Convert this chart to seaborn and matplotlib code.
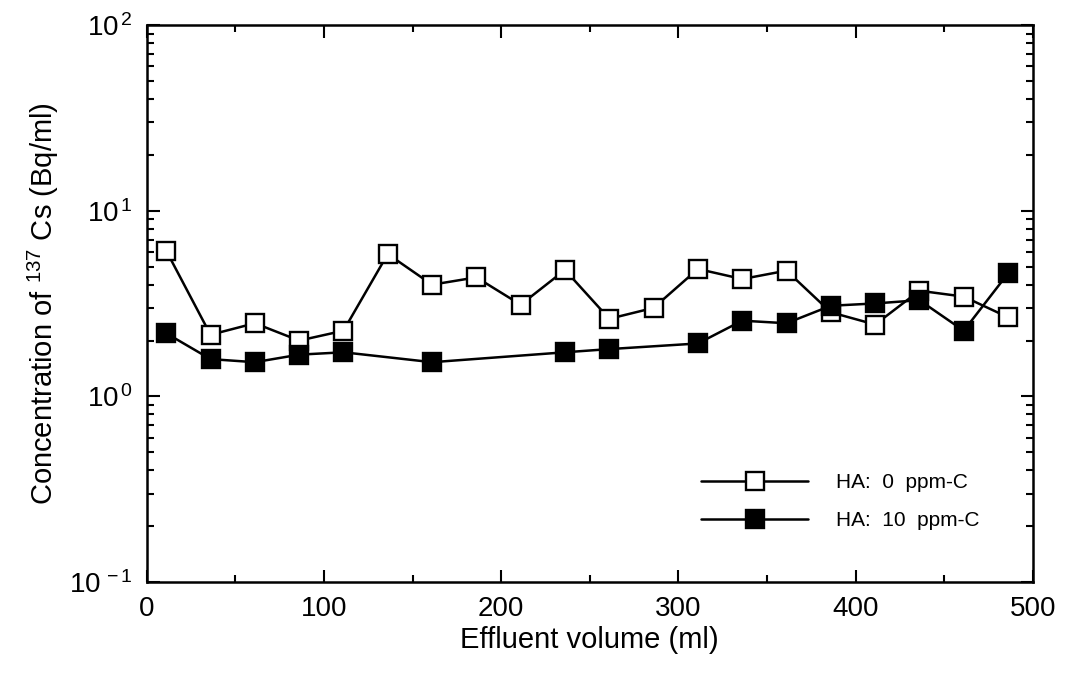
import numpy as np
import pandas as pd
import matplotlib
matplotlib.use("Agg")
import matplotlib.pyplot as plt
import seaborn as sns
from matplotlib.ticker import LogLocator, MultipleLocator, FuncFormatter, NullFormatter

# ---- data ----
vol_ha0 = [11, 36, 61, 86, 111, 136, 161, 186, 211, 236,
           261, 286, 311, 336, 361, 386, 411, 436, 461, 486]
cs_ha0 = [6.1, 2.15, 2.48, 2.0, 2.26, 5.85, 4.0, 4.38, 3.12, 4.8,
          2.62, 3.0, 4.86, 4.29, 4.76, 2.84, 2.44, 3.71, 3.45, 2.67]

vol_ha10 = [11, 36, 61, 86, 111, 161, 236, 261, 311, 336,
            361, 386, 411, 436, 461, 486]
cs_ha10 = [2.19, 1.59, 1.53, 1.68, 1.73, 1.53, 1.73, 1.80, 1.93, 2.56,
           2.48, 3.08, 3.17, 3.3, 2.26, 4.6]

label_ha0 = "HA:  0  ppm-C"
label_ha10 = "HA:  10  ppm-C"
x_label = "Effluent volume (ml)"
y_label = "Concentration of $^{137}$ Cs (Bq/ml)"

sns.set_style("ticks")
plt.rcParams["font.family"] = ["Liberation Sans", "DejaVu Sans"]
plt.rcParams["mathtext.fontset"] = "custom"
plt.rcParams["mathtext.rm"] = "Liberation Sans"
plt.rcParams["mathtext.it"] = "Liberation Sans"
plt.rcParams["mathtext.default"] = "regular"
plt.rcParams["text.color"] = "black"
plt.rcParams["axes.labelcolor"] = "black"

fig = plt.figure(figsize=(10.67, 6.77), dpi=100)
ax = fig.add_axes([0.1375, 0.140, 0.8305, 0.823])

df0 = pd.DataFrame({"v": vol_ha0, "c": cs_ha0})
df1 = pd.DataFrame({"v": vol_ha10, "c": cs_ha10})

sns.lineplot(data=df0, x="v", y="c", ax=ax, color="black", lw=1.8,
             marker="s", ms=12.5, mfc="white", mec="black", mew=1.7,
             label=label_ha0, sort=False)
sns.lineplot(data=df1, x="v", y="c", ax=ax, color="black", lw=1.8,
             marker="s", ms=12.5, mfc="black", mec="black", mew=1.7,
             label=label_ha10, sort=False)

ax.set_yscale("log")
ax.set_xlim(0, 500)
ax.set_ylim(0.1, 100)

ax.xaxis.set_major_locator(MultipleLocator(100))
ax.xaxis.set_minor_locator(MultipleLocator(50))
ax.yaxis.set_major_locator(LogLocator(base=10, numticks=10))
ax.yaxis.set_minor_locator(LogLocator(base=10, subs=np.arange(2, 10), numticks=10))
ax.yaxis.set_major_formatter(FuncFormatter(
    lambda v, p: r"$10^{\,%d}$" % int(round(np.log10(v)))))
ax.yaxis.set_minor_formatter(NullFormatter())

ax.tick_params(which="both", direction="in", top=True, right=True,
               width=1.5, colors="black", labelcolor="black", labelsize=20)
ax.tick_params(which="major", length=9)
ax.tick_params(which="minor", length=5)
ax.tick_params(axis="x", which="major", pad=10)
ax.tick_params(axis="y", which="major", pad=10)

for s in ax.spines.values():
    s.set_linewidth(1.8)
    s.set_color("black")

ax.set_xlabel(x_label, fontsize=21, labelpad=3, color="black")
ax.set_ylabel(y_label, fontsize=21, labelpad=6, color="black")

leg = ax.legend(loc="upper left", bbox_to_anchor=(0.626, 0.196),
                frameon=False, fontsize=15, handlelength=5.1,
                handletextpad=1.35, labelspacing=0.93, borderpad=0,
                borderaxespad=0)
for t in leg.get_texts():
    t.set_color("black")

fig.savefig("out.png", dpi=100)
